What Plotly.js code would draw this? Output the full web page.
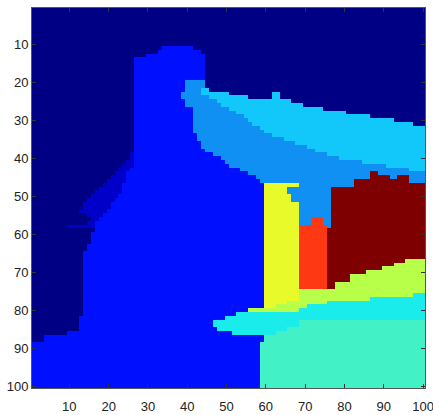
<!DOCTYPE html>
<html>
<head>
<meta charset="utf-8">
<script src="https://cdn.plot.ly/plotly-3.0.1.min.js"></script>
<style>
  html, body { margin: 0; padding: 0; background: #ffffff; }
  #chart { width: 433px; height: 415px; }
</style>
</head>
<body>
<div id="chart"></div>
<script>
// Segment label colours (jet-like), index = label value
const labelColors = [
  "#000084", // 0 background navy
  "#0000c8", // 1 dark-blue diagonal band
  "#0010ff", // 2 blue body
  "#1090f2", // 3 medium blue
  "#12c8fa", // 4 sky blue
  "#1aecec", // 5 cyan
  "#42f2c6", // 6 aquamarine
  "#b8ff4a", // 7 yellow-green
  "#e8fa2a", // 8 yellow
  "#ff3814", // 9 red
  "#7e0000"  // 10 dark red
];

// One entry per image row (row 1 at top). "label:lastColumn" runs, columns 1..100
const rowRuns = [
  "0:100","0:100","0:100","0:100","0:100","0:100","0:100","0:100","0:100","0:100",
  "0:33,2:41,0:100",
  "0:32,2:43,0:100",
  "0:29,2:44,0:100",
  "0:26,2:44,0:100","0:26,2:44,0:100","0:26,2:44,0:100","0:26,2:44,0:100","0:26,2:44,0:100","0:26,2:44,0:100",
  "0:26,2:39,3:44,0:100",
  "0:26,2:39,3:44,0:100",
  "0:26,2:39,3:43,4:45,0:100",
  "0:26,2:38,3:43,4:50,0:61,4:63,0:100",
  "0:26,2:38,3:45,4:55,0:61,4:63,0:100",
  "0:26,2:39,3:47,4:66,0:100",
  "0:26,2:39,3:48,4:69,0:100",
  "0:26,2:41,3:50,4:74,0:100",
  "0:26,2:41,3:52,4:80,0:100",
  "0:26,2:41,3:54,4:86,0:100",
  "0:26,2:41,3:55,4:92,0:100",
  "0:26,2:41,3:56,4:97,0:100",
  "0:26,2:41,3:58,4:100",
  "0:26,2:41,3:59,4:100",
  "0:26,2:42,3:61,4:100",
  "0:26,2:42,3:64,4:100",
  "0:26,2:43,3:67,4:100",
  "0:26,2:43,3:70,4:100",
  "0:26,2:44,3:72,4:100",
  "0:25,1:26,2:46,3:75,4:100",
  "0:25,1:26,2:48,3:78,4:100",
  "0:24,1:26,2:49,3:84,4:100",
  "0:23,1:26,2:50,3:90,4:100",
  "0:22,1:25,2:53,3:96,4:100",
  "0:21,1:24,2:55,3:86,10:88,3:100",
  "0:20,1:24,2:57,3:86,10:91,3:93,10:96,3:100",
  "0:19,1:24,2:58,3:82,10:96,3:100",
  "0:18,1:23,2:59,8:68,3:82,10:100",
  "0:17,1:23,2:59,8:65,3:76,10:100",
  "0:16,1:23,2:59,8:65,3:76,10:100",
  "0:15,1:22,2:59,8:66,3:76,10:100",
  "0:14,1:21,2:59,8:66,3:76,10:100",
  "0:13,1:20,2:59,8:68,3:76,10:100",
  "0:13,1:20,2:59,8:68,3:76,10:100",
  "0:12,1:19,2:59,8:68,3:76,10:100",
  "0:14,1:18,2:59,8:68,3:76,10:100",
  "0:15,1:17,2:59,8:68,3:71,9:74,3:76,10:100",
  "0:14,1:16,2:59,8:68,3:71,9:74,3:76,10:100",
  "0:9,1:16,2:59,8:68,9:75,3:76,10:100",
  "0:16,2:59,8:68,9:75,10:100",
  "0:15,2:59,8:68,9:75,10:100",
  "0:15,2:59,8:68,9:75,10:100",
  "0:15,2:59,8:68,9:75,10:100",
  "0:14,2:59,8:68,9:75,10:100",
  "0:14,2:59,8:68,9:75,10:100",
  "0:13,2:59,8:68,9:75,10:100",
  "0:13,2:59,8:68,9:75,10:100",
  "0:13,2:59,8:68,9:75,10:95,7:100",
  "0:13,2:59,8:68,9:75,10:92,7:100",
  "0:13,2:59,8:68,9:75,10:89,7:100",
  "0:13,2:59,8:68,9:75,10:85,7:100",
  "0:13,2:59,8:68,9:75,10:81,7:100",
  "0:13,2:59,8:68,9:75,10:81,7:100",
  "0:13,2:59,8:68,9:75,10:77,7:100",
  "0:13,2:59,8:68,9:75,10:77,7:100",
  "0:13,2:59,8:68,7:100",
  "0:13,2:59,8:68,7:97,5:100",
  "0:13,2:59,8:68,7:86,5:100",
  "0:13,2:59,8:65,7:75,5:100",
  "0:13,2:59,8:62,7:70,5:100",
  "0:13,2:55,7:68,5:100",
  "0:13,2:52,5:100",
  "0:12,2:49,5:100",
  "0:12,2:46,5:68,6:100",
  "0:12,2:46,5:68,6:100",
  "0:12,2:47,5:65,6:100",
  "0:9,2:51,5:62,6:100",
  "0:3,2:59,6:100",
  "0:3,2:59,6:100",
  "2:58,6:100","2:58,6:100","2:58,6:100","2:58,6:100","2:58,6:100","2:58,6:100",
  "2:58,6:100","2:58,6:100","2:58,6:100","2:58,6:100","2:58,6:100","2:58,6:100"
];

const xTicks = [10, 20, 30, 40, 50, 60, 70, 80, 90, 100];
const yTicks = [10, 20, 30, 40, 50, 60, 70, 80, 90, 100];

// Expand the run table into the heatmap matrix
const nCols = 100;
const z = rowRuns.map(spec => {
  const row = [];
  spec.split(",").forEach(run => {
    const [lab, last] = run.split(":").map(Number);
    while (row.length < last) row.push(lab);
  });
  return row;
});
const xs = Array.from({length: nCols}, (_, i) => i + 1);
const ys = Array.from({length: rowRuns.length}, (_, i) => i + 1);

// Discrete colour scale: label k occupies [k-0.5, k+0.5]
const n = labelColors.length;
const colorscale = [];
labelColors.forEach((c, k) => {
  colorscale.push([k / n, c]);
  colorscale.push([(k + 1) / n, c]);
});

const trace = {
  type: "heatmap",
  x: xs, y: ys, z: z,
  zmin: -0.5, zmax: n - 0.5,
  colorscale: colorscale,
  showscale: false,
  zsmooth: false,
  hoverinfo: "x+y+z"
};

const axisFont = {family: "Liberation Sans Narrow, Arial Narrow, Liberation Sans, Arial, sans-serif", size: 13, color: "#222"};

const layout = {
  width: 433, height: 415,
  margin: {l: 32, r: 8, t: 8, b: 27, pad: 0},
  paper_bgcolor: "#ffffff",
  plot_bgcolor: "#ffffff",
  showlegend: false,
  xaxis: {
    range: [0.5, 100.5],
    tickvals: xTicks, ticktext: xTicks.map(String),
    ticks: "inside", ticklen: 4, tickcolor: "#333", tickwidth: 1,
    showline: true, linecolor: "#555", linewidth: 1, mirror: "allticks",
    showgrid: false, zeroline: false,
    tickfont: axisFont, ticklabelstandoff: 6, ticklabeloverflow: "allow"
  },
  yaxis: {
    range: [100.5, 0.5],
    tickvals: yTicks, ticktext: yTicks.map(String),
    ticks: "inside", ticklen: 4, tickcolor: "#333", tickwidth: 1,
    showline: true, linecolor: "#555", linewidth: 1, mirror: "allticks",
    showgrid: false, zeroline: false,
    tickfont: axisFont, ticklabeloverflow: "allow"
  }
};

Plotly.newPlot("chart", [trace], layout, {displayModeBar: false, staticPlot: true});
</script>
</body>
</html>
